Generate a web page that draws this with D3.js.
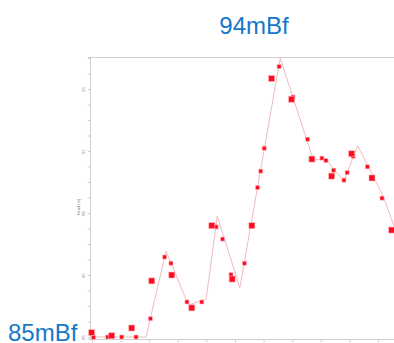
<!DOCTYPE html>
<html><head><meta charset="utf-8">
<script src="https://cdn.jsdelivr.net/npm/d3@7"></script>
<style>html,body{margin:0;padding:0;background:#fff;overflow:hidden}</style>
</head><body>
<script>
// Model line (x in time units, y in head)
const lineX = [0, 1.89, 2.59, 3.37, 3.99, 4.38, 5.17, 6.58, 7.74, 8.15, 8.81, 9.29, 10.19, 10.9];
const lineY = [85.0, 85.0, 87.78, 86.03, 86.22, 88.9, 86.59, 93.99, 90.71, 90.76, 90.03, 91.17, 89.53, 87.7];
// Large observed markers
const bigX = [-0.01, 0.69, 1.39, 2.09, 2.79, 3.49, 4.19, 4.9, 5.59, 6.28, 6.98, 7.69, 8.38, 9.08, 9.79, 10.48];
const bigY = [85.14, 85.04, 85.29, 86.81, 87.0, 85.94, 88.59, 86.87, 88.59, 93.34, 92.67, 90.74, 90.19, 90.91, 90.13, 88.45];
// Small observed markers
const smallX = [0.05, 0.55, 1.04, 1.54, 2.04, 2.54, 2.76, 3.32, 3.84, 4.34, 4.57, 4.86, 5.33, 5.79, 5.9, 6.02, 6.54, 7.03, 7.54, 8.04, 8.18, 8.45, 8.81, 8.92, 9.13, 9.63, 10.14];
const smallY = [84.99, 85.0, 85.0, 85.0, 85.59, 87.58, 87.38, 86.13, 86.13, 88.55, 88.16, 87.01, 87.38, 89.82, 90.35, 91.09, 93.72, 92.74, 91.38, 90.77, 90.69, 90.38, 90.06, 90.3, 90.83, 90.49, 89.48];
const yTickLabels = ["85", "87", "89", "91", "93"];
const xTicks = [0,1,2,3,4,5,6,7,8,9,10];
const titleTop = "94mBf";
const titleBottom = "85mBf";
const yTitle = "Head (m)";

const W = 394, H = 343;
const svg = d3.select("body").append("svg").attr("width", W).attr("height", H);

const x = d3.scaleLinear().domain([0, 11]).range([92, 92 + 28.6*11]);
const y = d3.scaleLinear().domain([85, 94]).range([337, 58]);

const grey = "#cfcfcf";
// top border
svg.append("line").attr("x1", 88).attr("x2", W).attr("y1", 57.5).attr("y2", 57.5).attr("stroke", grey);

// left axis
const yAxis = d3.axisLeft(y).tickValues(d3.range(85, 94.01, 0.5)).tickSize(3)
  .tickFormat(d => (d % 2 === 1 && Number.isInteger(d)) ? yTickLabels[(d-85)/2] : "");
const gy = svg.append("g").attr("transform", "translate(90.5,0)").call(yAxis);
gy.select(".domain").attr("stroke", grey).attr("d", `M0,57V339`);
gy.selectAll(".tick line").attr("stroke", grey);
gy.selectAll(".tick text").attr("font-size", 4).attr("fill", "#777").attr("font-family", "Liberation Sans, Arial, sans-serif")
  .attr("x", 0).attr("dy", 0).attr("text-anchor", "middle")
  .attr("transform", "translate(-6,0) rotate(-90)");
svg.append("text").attr("transform", "translate(80,207) rotate(-90)")
  .attr("text-anchor", "middle").attr("font-size", 4).attr("fill", "#777")
  .attr("font-family", "Liberation Sans, Arial, sans-serif").text(yTitle);

// bottom axis
const xAxis = d3.axisBottom(x).tickValues(xTicks).tickSize(3).tickFormat("");
const gx = svg.append("g").attr("transform", "translate(0,339.5)").call(xAxis);
gx.select(".domain").attr("stroke", grey).attr("d", `M88,0H${W}`);
gx.selectAll(".tick line").attr("stroke", grey);

// line
const lineData = lineX.map((v, i) => [v, lineY[i]]);
svg.append("path").datum(lineData)
  .attr("d", d3.line().x(d => x(d[0])).y(d => y(d[1])))
  .attr("fill", "none").attr("stroke", "#eebcbc").attr("stroke-width", 1);

// markers
const small = smallX.map((v, i) => [v, smallY[i]]);
const big = bigX.map((v, i) => [v, bigY[i]]);
svg.append("g").selectAll("rect").data(small).join("rect")
  .attr("x", d => x(d[0]) - 2).attr("y", d => y(d[1]) - 2)
  .attr("width", 4).attr("height", 4).attr("fill", "#ff0a1e")
  .attr("stroke", "#ffb0b8").attr("stroke-width", 0.6);
svg.append("g").selectAll("rect").data(big).join("rect")
  .attr("x", d => x(d[0]) - 3).attr("y", d => y(d[1]) - 3)
  .attr("width", 6).attr("height", 6).attr("fill", "#ff0a1e")
  .attr("stroke", "#ffb0b8").attr("stroke-width", 0.6);

// titles
svg.append("text").attr("x", 254).attr("y", 34).attr("text-anchor", "middle")
  .attr("font-family", "Liberation Sans, Arial, sans-serif").attr("font-size", 24)
  .attr("fill", "#1677c9").text(titleTop);
svg.append("text").attr("x", 8).attr("y", 341)
  .attr("font-family", "Liberation Sans, Arial, sans-serif").attr("font-size", 24)
  .attr("fill", "#1677c9").text(titleBottom);
</script>
</body></html>
